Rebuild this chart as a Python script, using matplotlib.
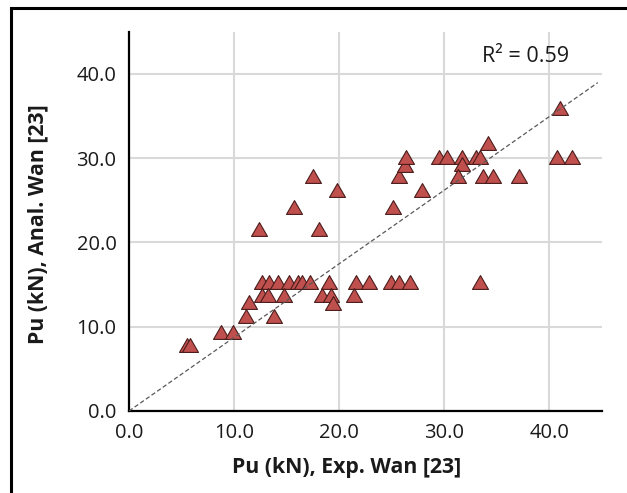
import numpy as np
import matplotlib
matplotlib.use("Agg")
import matplotlib.pyplot as plt
from matplotlib.patches import Rectangle

# Experimental (x) vs analytical (y) ultimate loads, kN
exp_pu = [5.5, 5.8, 8.8, 9.9, 11.1, 11.4, 12.4,
          12.7, 13.3, 14.2, 15.2, 16.1, 16.5, 17.2, 19.0, 21.6, 22.8, 24.9, 25.7, 26.7, 33.4,
          12.7, 13.2, 14.7, 18.4, 19.2, 21.4,
          19.4, 13.8,
          15.7, 18.1, 17.5, 19.8,
          25.1, 25.7, 26.3, 26.4, 27.9,
          29.5, 30.3, 31.7, 31.7, 31.3, 33.0, 33.4, 34.2, 33.7, 34.6, 37.1, 41.0, 40.7, 42.1]
anal_pu = [7.8, 7.8, 9.4, 9.4, 11.3, 12.9, 21.6,
           15.3, 15.3, 15.3, 15.3, 15.3, 15.3, 15.3, 15.3, 15.3, 15.3, 15.3, 15.3, 15.3, 15.3,
           13.8, 13.8, 13.8, 13.8, 13.8, 13.8,
           12.8, 11.3,
           24.2, 21.6, 27.9, 26.2,
           24.2, 27.9, 29.2, 30.1, 26.2,
           30.1, 30.1, 30.1, 29.3, 27.9, 30.1, 30.1, 31.8, 27.9, 27.9, 27.9, 36.0, 30.1, 30.1]
r2_text = "R² = 0.59"
xticks = [0, 10, 20, 30, 40]
yticks = [0, 10, 20, 30, 40]

x = np.array(exp_pu)
y = np.array(anal_pu)
slope = np.sum(x * y) / np.sum(x * x)

fig = plt.figure(figsize=(6.27, 4.93), dpi=100)
ax = fig.add_axes([129/627, 1-411/493, (602-129)/627, (411-31.7)/493])

font = "Open Sans"
tcol = "#1a1a1a"

ax.grid(True, color="#d9d9d9", lw=1.5, zorder=0)
ax.set_axisbelow(True)
tri = [(0, 0.433), (-0.5, -0.433), (0.5, -0.433), (0, 0.433)]
ax.plot(x, y, linestyle="none", marker=tri, markersize=11.5, markerfacecolor="#C0504D",
        markeredgecolor="#4a1c1b", markeredgewidth=0.8, zorder=3)
xl = np.array([0, 44.6])
ax.plot(xl, slope * xl, color="#595959", lw=0.9, dashes=(3.5, 2), zorder=4)

ax.set_xlim(0, 45)
ax.set_ylim(0, 45)
ax.set_xticks(xticks)
ax.set_yticks(yticks)
ax.set_xticklabels([f"{v:.1f}" for v in xticks], fontfamily=font, fontsize=14.5)
ax.set_yticklabels([f"{v:.1f}" for v in yticks], fontfamily=font, fontsize=14.5)
ax.tick_params(length=0, pad=9, colors=tcol)
for s in ["top", "right"]:
    ax.spines[s].set_visible(False)
for s in ["left", "bottom"]:
    ax.spines[s].set_color("black")
    ax.spines[s].set_linewidth(1.6)

ax.set_xlabel("Pu (kN), Exp. Wan [23]", fontfamily=font, fontsize=15.3, fontweight="bold", color=tcol)
ax.set_ylabel("Pu (kN), Anal. Wan [23]", fontfamily=font, fontsize=15.3, fontweight="bold", color=tcol)
ax.xaxis.set_label_coords((347-129)/473, (411-468)/379.3)
ax.yaxis.set_label_coords((38-129)/473, (411-224)/379.3)
ax.xaxis.label.set_va("center")
ax.yaxis.label.set_va("center")

ax.text(33.6, 42.0, r2_text, fontfamily=font, fontsize=15.5, ha="left", va="center", color=tcol)

fig.patches.append(Rectangle((11/627, -0.1), 1.2, 0.1 + 1 - 8/493, transform=fig.transFigure,
                             fill=False, edgecolor="black", lw=2.2, clip_on=False))

fig.savefig("out.png", dpi=100)
